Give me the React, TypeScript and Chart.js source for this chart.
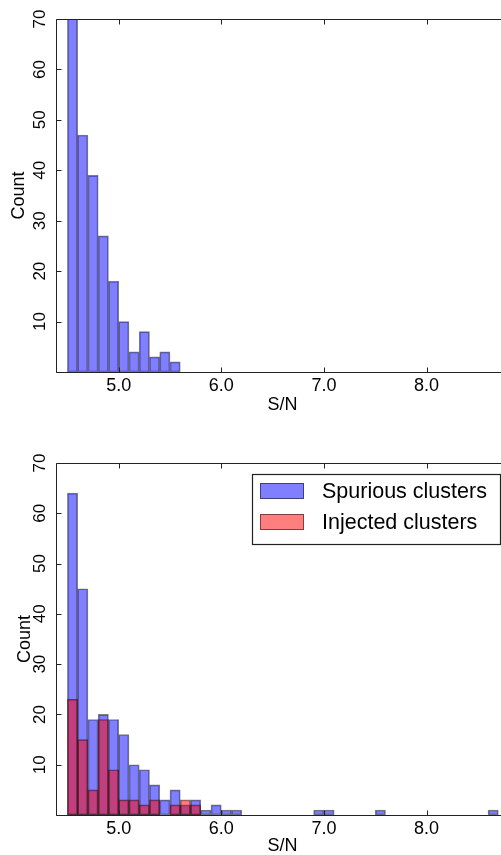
import React, { useEffect, useRef } from "react";
import { Chart, registerables } from "chart.js";

Chart.register(...registerables);

// ---------- data ----------
const BIN_WIDTH = 0.1;

// top panel
const topBinStarts = [4.5, 4.6, 4.7, 4.8, 4.9, 5.0, 5.1, 5.2, 5.3, 5.4, 5.5];
const topCounts = [78, 47, 39, 27, 18, 10, 4, 8, 3, 4, 2];

// bottom panel
const spuriousBinStarts = [4.5, 4.6, 4.7, 4.8, 4.9, 5.0, 5.1, 5.2, 5.3, 5.4, 5.5, 5.6, 5.7, 5.8, 5.9, 6.0, 6.1, 6.9, 7.0, 7.5, 8.6];
const spuriousCounts = [64, 45, 19, 20, 19, 16, 10, 9, 6, 3, 5, 2, 3, 1, 2, 1, 1, 1, 1, 1, 1];
const injectedBinStarts = [4.5, 4.6, 4.7, 4.8, 4.9, 5.0, 5.1, 5.2, 5.3, 5.5, 5.6, 5.7];
const injectedCounts = [23, 15, 5, 19, 9, 3, 3, 2, 3, 2, 3, 2];

const xTickValues = [5, 6, 7, 8];
const yTickValues = [0, 10, 20, 30, 40, 50, 60, 70];
const X_MIN = 4.389;
const X_MAX = 8.804;
const Y_MIN = 0;
const Y_MAX = 70;

const FONT = "'Liberation Sans', Arial, Helvetica, sans-serif";
const BLUE = "rgba(0,0,255,0.5)";
const RED = "rgba(255,0,0,0.5)";
const EDGE = "rgba(0,0,0,0.5)";

type Series = { label: string; starts: number[]; counts: number[]; fill: string; order: number };

const framePlugin = {
  id: "frame",
  afterDatasetsDraw(chart: any, _args: any, opts: any) {
    const { ctx, chartArea: a, scales } = chart;
    ctx.save();
    ctx.strokeStyle = "#222";
    ctx.lineWidth = 1;
    ctx.beginPath();
    const L = Math.round(a.left) + 0.5;
    const B = Math.round(a.bottom) + 0.5;
    const T = Math.round(a.top) + 0.5;
    ctx.moveTo(L, T);
    ctx.lineTo(L, B);
    ctx.lineTo(a.right, B);
    ctx.moveTo(L, T);
    ctx.lineTo(a.right, T);
    for (const v of xTickValues) {
      const px = Math.round(scales.x.getPixelForValue(v)) + 0.5;
      ctx.moveTo(px, B);
      ctx.lineTo(px, B - 5);
      ctx.moveTo(px, T);
      ctx.lineTo(px, T + 5);
    }
    for (const v of yTickValues) {
      const py = Math.round(scales.y.getPixelForValue(v)) + 0.5;
      ctx.moveTo(L, py);
      ctx.lineTo(L + 5, py);
    }
    ctx.stroke();

    if (opts && opts.legend) {
      const ds = chart.data.datasets;
      const boxRight = a.right - 9;
      const boxLeft = boxRight - 248;
      const boxTop = a.top + 11;
      const boxH = 70;
      ctx.fillStyle = "#fff";
      ctx.fillRect(boxLeft, boxTop, boxRight - boxLeft, boxH);
      ctx.strokeStyle = "#222";
      ctx.lineWidth = 1.2;
      ctx.strokeRect(boxLeft + 0.5, boxTop + 0.5, boxRight - boxLeft, boxH);
      ds.forEach((d: any, i: number) => {
        const cy = boxTop + 17 + i * 31;
        ctx.fillStyle = d.backgroundColor;
        ctx.fillRect(boxLeft + 8, cy - 8, 44, 16);
        ctx.strokeStyle = EDGE;
        ctx.lineWidth = 1;
        ctx.strokeRect(boxLeft + 8.5, cy - 7.5, 43, 15);
        ctx.fillStyle = "#000";
        ctx.font = `21.5px ${FONT}`;
        ctx.textBaseline = "middle";
        ctx.textAlign = "left";
        ctx.fillText(d.label, boxLeft + 70, cy + 1);
      });
    }
    ctx.restore();
  },
};

function HistChart(props: {
  series: Series[];
  width: number;
  height: number;
  plotTop: number;
  plotBottom: number;
  xTitlePad: number;
  yTitlePad: number;
  legend: boolean;
  top: number;
}) {
  const ref = useRef<HTMLCanvasElement>(null);
  useEffect(() => {
    const { series, height, plotTop, plotBottom, xTitlePad, yTitlePad, legend } = props;
    const chart = new Chart(ref.current as HTMLCanvasElement, {
      type: "bar",
      data: {
        datasets: series.map((s) => ({
          label: s.label,
          data: s.starts.map((st, i) => ({ x: st + BIN_WIDTH / 2, y: s.counts[i] })),
          backgroundColor: s.fill,
          borderColor: EDGE,
          borderWidth: 1,
          borderSkipped: false,
          grouped: false,
          barPercentage: 1,
          categoryPercentage: 1,
          order: s.order,
        })) as any,
      },
      options: {
        animation: false,
        responsive: false,
        maintainAspectRatio: false,
        layout: { padding: { top: plotTop, left: 0, right: 0, bottom: 0 } },
        plugins: {
          legend: { display: false },
          tooltip: { enabled: false },
          frame: { legend },
        } as any,
        scales: {
          x: {
            type: "linear",
            min: X_MIN,
            max: X_MAX,
            offset: false,
            afterBuildTicks: (s: any) => {
              s.ticks = xTickValues.map((v) => ({ value: v }));
            },
            afterFit: (s: any) => {
              s.height = height - plotBottom;
            },
            grid: { display: false, drawTicks: false },
            border: { display: false },
            ticks: {
              padding: 3,
              color: "#000",
              font: { family: FONT, size: 18 },
              maxRotation: 0,
              minRotation: 0,
              autoSkip: false,
              callback: (v: any) => Number(v).toFixed(1),
            },
            title: {
              display: true,
              text: "S/N",
              color: "#000",
              font: { family: FONT, size: 18, lineHeight: 1 },
              padding: { top: 0, bottom: xTitlePad },
            },
          },
          y: {
            type: "linear",
            min: Y_MIN,
            max: Y_MAX,
            afterBuildTicks: (s: any) => {
              s.ticks = yTickValues.map((v) => ({ value: v }));
            },
            afterFit: (s: any) => {
              s.width = 56;
            },
            grid: { display: false, drawTicks: false },
            border: { display: false },
            ticks: {
              padding: 6.5,
              color: "#000",
              font: { family: FONT, size: 17 },
              minRotation: 90,
              maxRotation: 90,
              crossAlign: "center",
              autoSkip: false,
              callback: (v: any) => (Number(v) === 0 ? "" : String(v)),
            },
            title: {
              display: true,
              text: "Count",
              color: "#000",
              font: { family: FONT, size: 18, lineHeight: 1 },
              padding: { top: yTitlePad, bottom: 0 },
            },
          },
        } as any,
      },
      plugins: [framePlugin as any],
    });
    return () => chart.destroy();
  }, []);
  return (
    <canvas
      ref={ref}
      width={props.width}
      height={props.height}
      style={{ position: "absolute", left: 0, top: props.top, width: props.width, height: props.height, display: "block" }}
    />
  );
}

export default function App() {
  const topSeries: Series[] = [
    { label: "Spurious clusters", starts: topBinStarts, counts: topCounts, fill: BLUE, order: 2 },
  ];
  const bottomSeries: Series[] = [
    { label: "Spurious clusters", starts: spuriousBinStarts, counts: spuriousCounts, fill: BLUE, order: 2 },
    { label: "Injected clusters", starts: injectedBinStarts, counts: injectedCounts, fill: RED, order: 1 },
  ];
  return (
    <div
      style={{
        position: "fixed",
        left: 0,
        top: 0,
        width: 501,
        height: 855,
        overflow: "hidden",
        background: "#fff",
      }}
    >
      <HistChart series={topSeries} width={509} height={430} plotTop={19} plotBottom={372} xTitlePad={16} yTitlePad={10.5} legend={false} top={0} />
      <HistChart series={bottomSeries} width={509} height={425} plotTop={33} plotBottom={385} xTitlePad={0} yTitlePad={16} legend={true} top={430} />
    </div>
  );
}
